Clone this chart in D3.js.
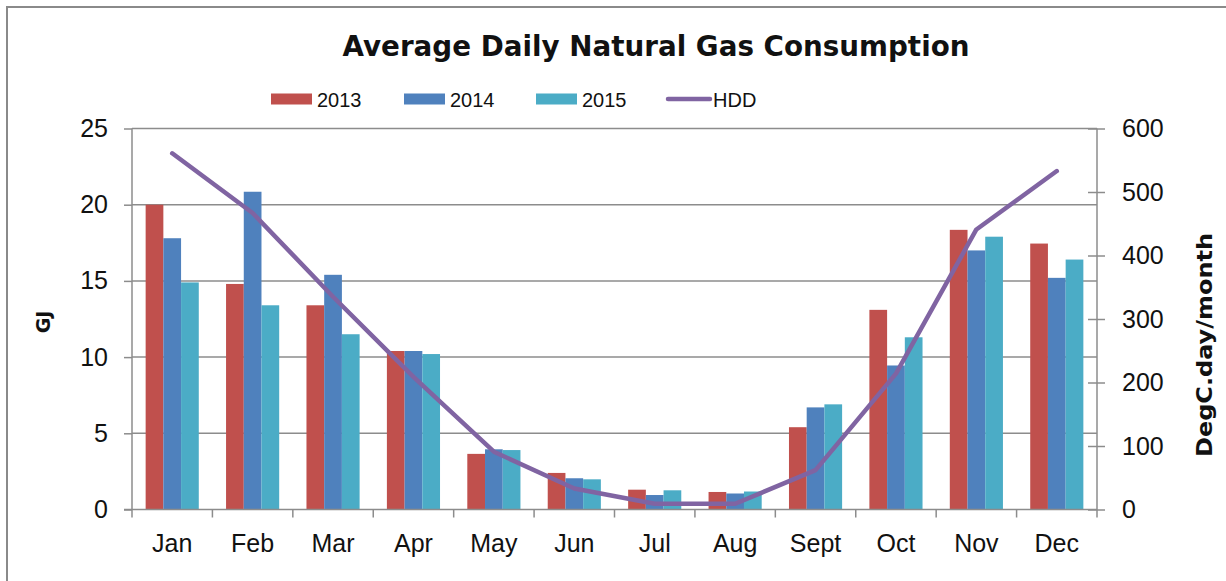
<!DOCTYPE html>
<html>
<head>
<meta charset="utf-8">
<script src="https://cdn.jsdelivr.net/npm/d3@7"></script>
<style>
  body { margin: 0; background: #fff; }
  text { font-family: "Liberation Sans", Arial, sans-serif; fill: #111; }
</style>
</head>
<body>
<div id="chart"></div>
<script>
// data
var months = ["Jan","Feb","Mar","Apr","May","Jun","Jul","Aug","Sept","Oct","Nov","Dec"];
var years = ["2013","2014","2015"];
var gas2013 = [20.0, 14.8, 13.4, 10.4, 3.65, 2.4, 1.3, 1.15, 5.4, 13.1, 18.35, 17.45];
var gas2014 = [17.8, 20.85, 15.4, 10.4, 3.95, 2.05, 0.95, 1.05, 6.7, 9.45, 17.0, 15.2];
var gas2015 = [14.9, 13.4, 11.5, 10.2, 3.9, 1.98, 1.26, 1.18, 6.9, 11.3, 17.9, 16.4];
var hdd = [561, 467, 335, 209, 91, 33, 9, 9, 62, 214, 441, 533];
var gjTicks = [0, 5, 10, 15, 20, 25];
var hddTicks = [0, 100, 200, 300, 400, 500, 600];

var colors = { "2013": "#C0504D", "2014": "#4F81BD", "2015": "#4BACC6", HDD: "#8064A2" };
var series = { "2013": gas2013, "2014": gas2014, "2015": gas2015 };

var W = 1226, H = 581;
var plotLeft = 132, plotRight = 1097, plotTop = 128.5, plotBottom = 509.5;
var axisColor = "#8c8c8c";

var svg = d3.select("#chart").append("svg")
    .attr("width", W)
    .attr("height", H);

// outer frame (right/bottom edges fall outside the picture)
svg.append("rect")
    .attr("x", 7).attr("y", 7)
    .attr("width", W + 20).attr("height", H + 20)
    .attr("fill", "none")
    .attr("stroke", "#8a8a8a")
    .attr("stroke-width", 2);

var x = d3.scaleBand().domain(months).range([plotLeft, plotRight]);
var x1 = d3.scaleBand().domain(years).range([0, x.bandwidth()]).paddingOuter(0.77);
var y = d3.scaleLinear().domain([0, 25]).range([plotBottom, plotTop]);
var y2 = d3.scaleLinear().domain([0, 600]).range([plotBottom, plotTop]);

// gridlines
svg.append("g")
    .selectAll("line")
    .data(gjTicks.slice(1))
    .enter().append("line")
    .attr("x1", plotLeft).attr("x2", plotRight)
    .attr("y1", function(d){ return y(d); })
    .attr("y2", function(d){ return y(d); })
    .attr("stroke", axisColor)
    .attr("stroke-width", 1.5);

// bars
var groups = svg.append("g").selectAll("g")
    .data(months)
    .enter().append("g")
    .attr("transform", function(d){ return "translate(" + x(d) + ",0)"; });

groups.selectAll("rect")
    .data(function(m, i){ return years.map(function(yr){ return { yr: yr, v: series[yr][i] }; }); })
    .enter().append("rect")
    .attr("x", function(d){ return x1(d.yr); })
    .attr("y", function(d){ return y(d.v); })
    .attr("width", x1.bandwidth())
    .attr("height", function(d){ return plotBottom - y(d.v); })
    .attr("fill", function(d){ return colors[d.yr]; });

// left axis
var yAxis = svg.append("g")
    .attr("transform", "translate(" + plotLeft + ",0)")
    .call(d3.axisLeft(y).tickValues(gjTicks).tickSize(8).tickPadding(16));
yAxis.select(".domain").remove();
yAxis.append("line").attr("x1", 0).attr("x2", 0).attr("y1", plotTop).attr("y2", plotBottom + 8);

// right axis
var y2Axis = svg.append("g")
    .attr("transform", "translate(" + plotRight + ",0)")
    .call(d3.axisRight(y2).tickValues(hddTicks).tickSize(8).tickPadding(17));
y2Axis.select(".domain").remove();
y2Axis.selectAll(".tick line").attr("x1", -9);
y2Axis.append("line").attr("x1", 0).attr("x2", 0).attr("y1", plotTop).attr("y2", plotBottom + 8);

// bottom axis, ticks at category boundaries
var xAxis = svg.append("g")
    .attr("transform", "translate(0," + plotBottom + ")")
    .call(d3.axisBottom(x).tickSize(0).tickPadding(25));
xAxis.select(".domain").remove();
xAxis.append("line").attr("x1", plotLeft - 8).attr("x2", plotRight).attr("y1", 0).attr("y2", 0);
xAxis.selectAll(".bound")
    .data(months.slice(1))
    .enter().append("line")
    .attr("class", "bound")
    .attr("x1", function(d){ return x(d); })
    .attr("x2", function(d){ return x(d); })
    .attr("y1", 0).attr("y2", 8);

svg.selectAll(".tick text").attr("font-size", 25).attr("fill", "#111")
    .style("font-family", "'Liberation Sans', Arial, sans-serif");
[yAxis, y2Axis, xAxis].forEach(function(a){
    a.selectAll("line").attr("stroke", axisColor).attr("stroke-width", 1.5);
});

// HDD line
var line = d3.line()
    .x(function(d, i){ return x(months[i]) + x.bandwidth() / 2; })
    .y(function(d){ return y2(d); });
svg.append("path")
    .datum(hdd)
    .attr("d", line)
    .attr("fill", "none")
    .attr("stroke", colors.HDD)
    .attr("stroke-width", 4.5)
    .attr("stroke-linecap", "round")
    .attr("stroke-linejoin", "round");

// title
svg.append("text")
    .attr("x", 656).attr("y", 56)
    .attr("text-anchor", "middle")
    .attr("font-size", 29)
    .attr("font-weight", "bold")
    .style("font-family", "'DejaVu Sans', sans-serif")
    .attr("textLength", 627)
    .attr("lengthAdjust", "spacingAndGlyphs")
    .text("Average Daily Natural Gas Consumption");

// axis titles
svg.append("text")
    .attr("transform", "translate(50,322) rotate(-90)")
    .attr("text-anchor", "middle")
    .attr("font-size", 19)
    .attr("font-weight", "bold")
    .style("font-family", "'DejaVu Sans', sans-serif")
    .text("GJ");

svg.append("text")
    .attr("transform", "translate(1212,345) rotate(-90)")
    .attr("text-anchor", "middle")
    .attr("font-size", 22)
    .attr("font-weight", "bold")
    .style("font-family", "'DejaVu Sans', sans-serif")
    .attr("textLength", 224)
    .attr("lengthAdjust", "spacingAndGlyphs")
    .text("DegC.day/month");

// legend
var legendItems = [
    { key: "2013", x: 271 },
    { key: "2014", x: 404 },
    { key: "2015", x: 536 },
    { key: "HDD", x: 667 }
];
var lg = svg.append("g").selectAll("g")
    .data(legendItems)
    .enter().append("g")
    .attr("transform", function(d){ return "translate(" + d.x + ",99)"; });
lg.each(function(d){
    var g = d3.select(this);
    if (d.key === "HDD") {
        g.append("line").attr("x1", 1).attr("x2", 43).attr("y1", 0).attr("y2", 0)
            .attr("stroke", colors.HDD).attr("stroke-width", 4.5).attr("stroke-linecap", "round");
    } else {
        g.append("rect").attr("x", 0).attr("y", -5.5).attr("width", 41).attr("height", 11)
            .attr("fill", colors[d.key]);
    }
    g.append("text").attr("x", 46).attr("y", 7.5)
        .attr("font-size", 20)
        .text(d.key);
});
</script>
</body>
</html>
